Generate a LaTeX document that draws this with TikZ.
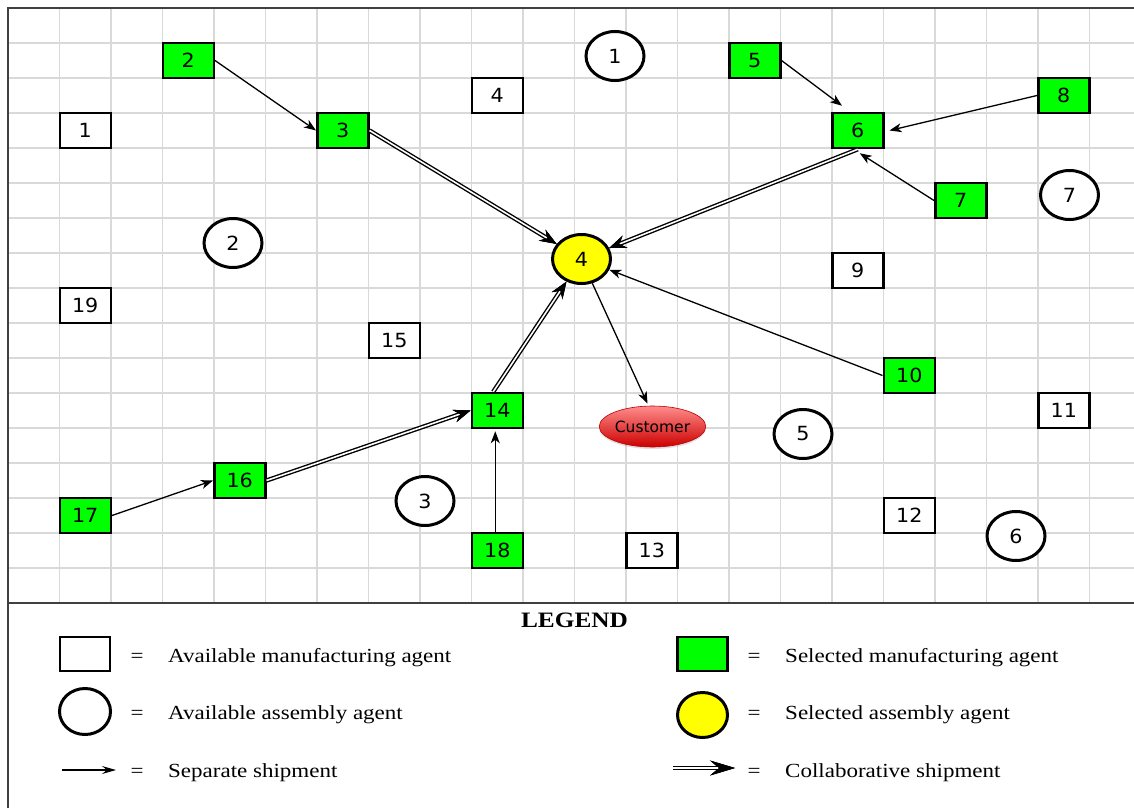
\documentclass[tikz,border=0pt]{standalone}
\usepackage{fontspec}
\usetikzlibrary{arrows.meta,shapes.geometric,calc,shadows}
\newfontfamily\numfont[FakeStretch=1.06]{DejaVu Sans}
\newfontfamily\custfont{DejaVu Sans}
\newfontfamily\legfont[FakeStretch=1.15]{Liberation Serif}
\definecolor{selgreen}{RGB}{0,255,0}
\definecolor{selyellow}{RGB}{255,255,0}
\definecolor{gridc}{RGB}{217,217,217}
\definecolor{framec}{RGB}{64,64,64}
\tikzset{
  agent/.style={rectangle, draw=black, line width=2.5pt, minimum width=51pt, minimum height=35pt, inner sep=0pt, font={\numfont\fontsize{19.5}{20}\selectfont}},
  availm/.style={agent, fill=white},
  selm/.style={agent, fill=selgreen},
  asmag/.style={ellipse, draw=black, line width=3pt, minimum width=58pt, minimum height=49pt, inner sep=0pt, fill=white, font={\numfont\fontsize{19.5}{20}\selectfont}},
  sela/.style={asmag, fill=selyellow},
  sepship/.style={-{Stealth[length=12pt,width=9pt,inset=3.5pt]}, line width=1.3pt, draw=black},
  colship/.style={draw=black, line width=4.4pt, -{Stealth[length=17pt,width=13pt,inset=6pt,line width=0.6pt]},
     postaction={draw=white, line width=1.6pt, -{Stealth[length=17pt,width=13pt,inset=6pt,line width=0.6pt,color=black]}}},
  legcol/.style={draw=black, line width=4.4pt, -{Stealth[length=25pt,width=15pt,inset=9pt,line width=0.6pt]},
     postaction={draw=white, line width=1.6pt, -{Stealth[length=25pt,width=15pt,inset=9pt,line width=0.6pt,color=black]}}},
  legtext/.style={anchor=base west, inner sep=0pt, font={\legfont\fontsize{20}{22}\selectfont}},
  legeq/.style={anchor=base, inner sep=0pt, font={\legfont\fontsize{20}{22}\selectfont}},
  gridline/.style={draw=gridc, line width=1.4pt},
  frameline/.style={draw=framec, line width=1.4pt}
}
\begin{document}
\begin{tikzpicture}[x=1pt,y=-1pt]
\useasboundingbox (0,0) rectangle (1134,808);
\fill[white] (0,0) rectangle (1134,808);
% grid
\foreach \i in {1,...,21} \draw[gridline] ({8+51.5*\i},8) -- ({8+51.5*\i},603);
\foreach \j in {1,...,16} \draw[gridline] (8,{8+35*\j}) -- (1134,{8+35*\j});
% frame
\draw[frameline] (8,808) -- (8,8) -- (1134,8);
\draw[frameline] (8,603) -- (1134,603);

% available manufacturing agents
\node[availm] (a1) at (85.25,130.5) {1};
\node[availm] (a4) at (497.25,95.5) {4};
\node[availm] (a9) at (857.75,270.5) {9};
\node[availm] (a11) at (1063.75,410.5) {11};
\node[availm] (a12) at (909.25,515.5) {12};
\node[availm] (a13) at (651.75,550.5) {13};
\node[availm] (a15) at (394.25,340.5) {15};
\node[availm] (a19) at (85.25,305.5) {19};
% selected manufacturing agents
\node[selm] (m2) at (188.25,60.5) {2};
\node[selm] (m3) at (342.75,130.5) {3};
\node[selm] (m5) at (754.75,60.5) {5};
\node[selm] (m6) at (857.75,130.5) {6};
\node[selm] (m7) at (960.75,200.5) {7};
\node[selm] (m8) at (1063.75,95.5) {8};
\node[selm] (m10) at (909.25,375.5) {10};
\node[selm] (m14) at (497.25,410.5) {14};
\node[selm] (m16) at (239.75,480.5) {16};
\node[selm] (m17) at (85.25,515.5) {17};
\node[selm] (m18) at (497.25,550.5) {18};
% assembly agents
\node[asmag] (as1) at (615,56) {1};
\node[asmag] (as2) at (233,243) {2};
\node[asmag] (as3) at (425,501) {3};
\node[asmag] (as5) at (803,434) {5};
\node[asmag] (as6) at (1016,536) {6};
\node[asmag] (as7) at (1069.5,195) {7};
\node[sela] (s4) at (581.5,259) {4};
% customer
\node[ellipse, minimum width=103pt, minimum height=41pt, inner sep=0pt, draw=red!75!black, line width=0.6pt,
      top color=red!45!white, middle color=red!95!white, bottom color=red!80!black,
      drop shadow={opacity=0.25, shadow xshift=0pt, shadow yshift=-2pt},
      font={\custfont\fontsize{15.5}{16}\selectfont}] (cust) at (652.5,426.5) {Customer};

% connectors
\draw[sepship] (m2.east) -- (m3.west);
\draw[colship] (m3.east) -- (s4);
\draw[colship] (m6.south) -- (s4);
\draw[sepship] (m5.east) -- ($(m6.north west)+(11,-6)$);
\draw[sepship] (m8.west) -- ($(m6.east)+(5,0)$);
\draw[sepship] (m7.west) -- ($(m6.south)+(2,4)$);
\draw[sepship] (m10.west) -- (s4);
\draw[sepship] (s4.-66) -- ($(cust.north)+(-5,-2)$);
\draw[colship] ($(m14.north)+(-4,0)$) -- (s4);
\draw[sepship] ($(m18.north)+(-2,0)$) -- ($(m14.south)+(-2,2)$);
\draw[colship] (m16.east) -- (m14.west);
\draw[sepship] (m17.east) -- (m16.west);

% legend
\node[anchor=base, inner sep=0pt, font={\legfont\fontsize{22}{24}\bfseries\selectfont}] (legtitle) at (574.5,627) {LEGEND};
\node[rectangle, draw=black, line width=2.5pt, fill=white, minimum width=50pt, minimum height=34pt, inner sep=0pt] (lbox1) at (85,654) {};
\node[legeq] (leq1) at (137,662) {=};
\node[legtext] (lt1) at (168,662) {Available manufacturing agent};
\node[ellipse, draw=black, line width=3pt, fill=white, minimum width=51pt, minimum height=46pt, inner sep=0pt] (lcirc1) at (85,711.5) {};
\node[legeq] (leq2) at (137,719) {=};
\node[legtext] (lt2) at (168,719) {Available assembly agent};
\coordinate (ls1) at (62,770);
\coordinate (ls2) at (116,770);
\draw[line width=1.1pt, -{Stealth[length=14pt,width=8pt,inset=5pt]}] (ls1) -- (ls2);
\node[legeq] (leq3) at (137,777) {=};
\node[legtext] (lt3) at (168,777) {Separate shipment};

\node[rectangle, draw=black, line width=2.5pt, fill=selgreen, minimum width=50pt, minimum height=34pt, inner sep=0pt] (lbox2) at (702.5,654) {};
\node[legeq] (leq4) at (754,662) {=};
\node[legtext] (lt4) at (785,662) {Selected manufacturing agent};
\node[ellipse, draw=black, line width=3pt, fill=selyellow, minimum width=50pt, minimum height=45pt, inner sep=0pt] (lcirc2) at (702.5,715) {};
\node[legeq] (leq5) at (754,719) {=};
\node[legtext] (lt5) at (785,719) {Selected assembly agent};
\coordinate (ld1) at (673,768);
\coordinate (ld2) at (735,768);
\draw[legcol] (ld1) -- (ld2);
\node[legeq] (leq6) at (754,777) {=};
\node[legtext] (lt6) at (785,777) {Collaborative shipment};
\end{tikzpicture}
\end{document}
